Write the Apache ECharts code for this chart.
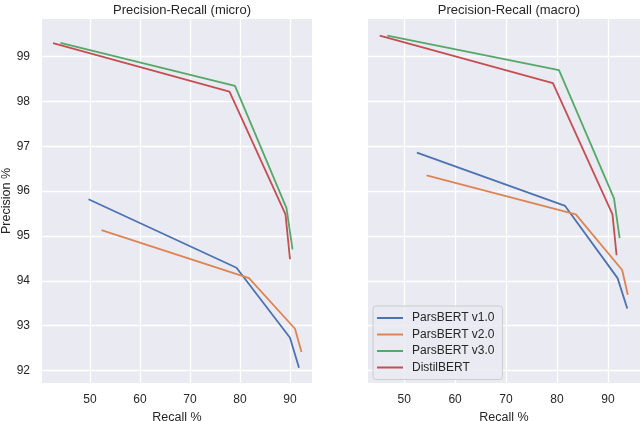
<!DOCTYPE html>
<html>
<head>
<meta charset="utf-8">
<script src="https://cdn.jsdelivr.net/npm/echarts@6/dist/echarts.min.js"></script>
<style>html,body{margin:0;padding:0;background:#fff}#c{width:640px;height:421px}</style>
</head>
<body>
<div id="c"></div>
<script>
var seriesNames = ['ParsBERT v1.0', 'ParsBERT v2.0', 'ParsBERT v3.0', 'DistilBERT'];
var colors = ['#4c72b0', '#dd8452', '#55a868', '#c44e52'];
var xTicks = [50, 60, 70, 80, 90];
var yTicks = [92, 93, 94, 95, 96, 97, 98, 99];

var microV1X = [49.7, 79.3, 90.0, 91.8];
var microV1Y = [95.82, 94.29, 92.73, 92.06];
var microV2X = [52.3, 81.8, 91.0, 92.3];
var microV2Y = [95.13, 94.06, 92.93, 92.41];
var microV3X = [44.1, 79.0, 89.3, 90.5];
var microV3Y = [99.31, 98.35, 95.62, 94.70];
var microDistilX = [42.6, 77.9, 89.1, 90.0];
var microDistilY = [99.30, 98.22, 95.48, 94.48];

var macroV1X = [52.5, 81.6, 91.9, 93.8];
var macroV1Y = [96.86, 95.67, 94.06, 93.38];
var macroV2X = [54.4, 83.7, 92.8, 93.9];
var macroV2Y = [96.35, 95.48, 94.24, 93.69];
var macroV3X = [46.7, 80.4, 91.2, 92.3];
var macroV3Y = [99.47, 98.70, 95.84, 94.95];
var macroDistilX = [45.2, 79.2, 90.9, 91.7];
var macroDistilY = [99.47, 98.41, 95.48, 94.57];

function pairs(xs, ys) { return xs.map(function (x, i) { return [x, ys[i]]; }); }

var micro = [pairs(microV1X, microV1Y), pairs(microV2X, microV2Y), pairs(microV3X, microV3Y), pairs(microDistilX, microDistilY)];
var macro = [pairs(macroV1X, macroV1Y), pairs(macroV2X, macroV2Y), pairs(macroV3X, macroV3Y), pairs(macroDistilX, macroDistilY)];

var font = 'Liberation Sans, Arial, Helvetica, sans-serif';
var txt = '#262626';

function xAxis(idx, min, max) {
  return {
    type: 'value', gridIndex: idx, min: min, max: max,
    name: 'Recall %', nameLocation: 'middle', nameGap: 27,
    nameTextStyle: { fontFamily: font, fontSize: 12.5, color: txt },
    axisLine: { show: false },
    axisTick: { show: false, customValues: xTicks },
    axisLabel: { customValues: xTicks, fontFamily: font, fontSize: 12, color: txt, margin: 11 },
    splitLine: { show: true, lineStyle: { color: '#ffffff', width: 1.3 } }
  };
}
function yAxis(idx, showLabels) {
  return {
    type: 'value', gridIndex: idx, min: 91.72, max: 99.84,
    name: showLabels ? 'Precision %' : '', nameLocation: 'middle', nameGap: 28,
    nameTextStyle: { fontFamily: font, fontSize: 12.5, color: txt },
    axisLine: { show: false },
    axisTick: { show: false, customValues: yTicks },
    axisLabel: { show: showLabels, customValues: yTicks, fontFamily: font, fontSize: 12, color: txt, margin: 12 },
    splitLine: { show: true, lineStyle: { color: '#ffffff', width: 1.3 } }
  };
}

var series = [];
[micro, macro].forEach(function (set, g) {
  set.forEach(function (d, i) {
    series.push({
      type: 'line', name: seriesNames[i], xAxisIndex: g, yAxisIndex: g,
      data: d, symbol: 'none', showSymbol: false,
      lineStyle: { color: colors[i], width: 1.8 }, itemStyle: { color: colors[i] },
      animation: false, z: 3
    });
  });
});

var chart = echarts.init(document.getElementById('c'), null, { renderer: 'canvas' });
chart.setOption({
  animation: false,
  backgroundColor: '#ffffff',
  title: [
    { text: 'Precision-Recall (micro)', left: 177, top: -1, textAlign: 'center',
      textStyle: { fontFamily: font, fontSize: 13, fontWeight: 'normal', color: txt } },
    { text: 'Precision-Recall (macro)', left: 504, top: -1, textAlign: 'center',
      textStyle: { fontFamily: font, fontSize: 13, fontWeight: 'normal', color: txt } }
  ],
  grid: [
    { left: 42, top: 19, width: 270, height: 364, backgroundColor: '#eaeaf2', show: true, borderWidth: 0, containLabel: false, outerBoundsMode: 'none' },
    { left: 368, top: 19, width: 272, height: 364, backgroundColor: '#eaeaf2', show: true, borderWidth: 0, containLabel: false, outerBoundsMode: 'none' }
  ],
  xAxis: [xAxis(0, 40.4, 94.4), xAxis(1, 42.9, 96.3)],
  yAxis: [yAxis(0, true), yAxis(1, false)],
  legend: {
    data: seriesNames, orient: 'vertical', left: 373, top: 306,
    icon: 'rect', itemWidth: 26, itemHeight: 2, itemGap: 4.5,
    padding: [6, 8, 6, 4],
    backgroundColor: 'rgba(234,234,242,0.85)', borderColor: '#cccccc', borderWidth: 1, borderRadius: 3,
    textStyle: { fontFamily: font, fontSize: 12, color: txt, padding: [0, 0, 0, 4] }
  },
  series: series
});
</script>
</body>
</html>
